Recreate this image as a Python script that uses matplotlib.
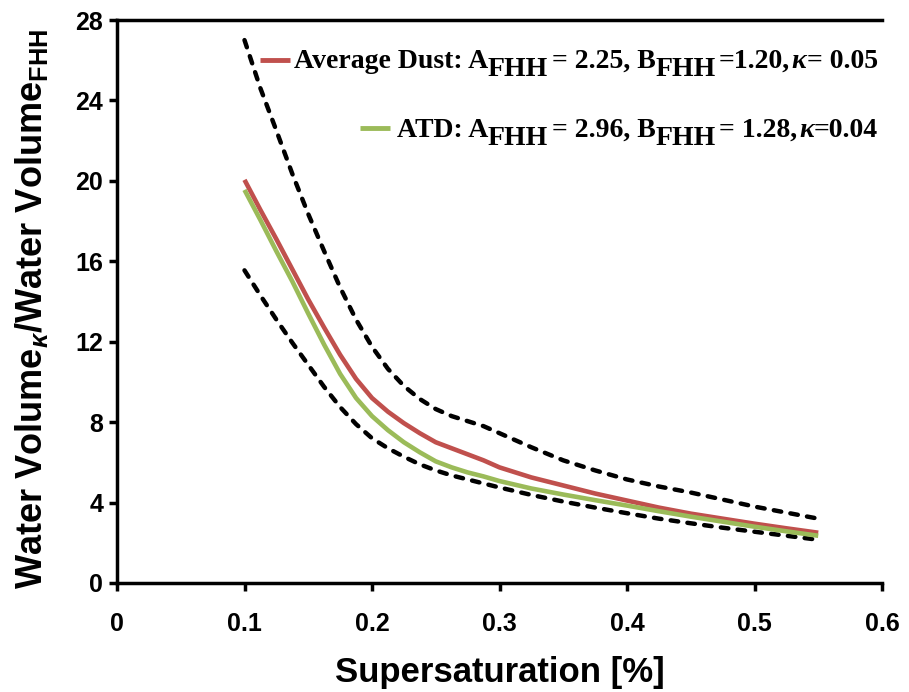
import matplotlib
matplotlib.use("Agg")
import matplotlib.pyplot as plt
import matplotlib.transforms as mtransforms

# ---------------- data ----------------
supersat = [0.1, 0.1125, 0.125, 0.1375, 0.15, 0.1625, 0.175, 0.1875, 0.2, 0.2125, 0.225, 0.2375,
            0.25, 0.2625, 0.275, 0.2875, 0.3, 0.325, 0.35, 0.375, 0.4, 0.425, 0.45, 0.475, 0.5, 0.525, 0.55]
avg_dust = [20.05, 18.55, 17.1, 15.6, 14.1, 12.7, 11.35, 10.15, 9.2, 8.52, 7.95, 7.45,
            7.0, 6.7, 6.4, 6.1, 5.75, 5.25, 4.85, 4.45, 4.1, 3.75, 3.45, 3.2, 2.95, 2.72, 2.5]
atd      = [19.55, 18.05, 16.5, 15.0, 13.4, 11.85, 10.4, 9.2, 8.3, 7.6, 7.0, 6.5,
            6.05, 5.75, 5.5, 5.3, 5.07, 4.7, 4.4, 4.12, 3.85, 3.57, 3.3, 3.05, 2.8, 2.57, 2.35]
upper    = [27.0, 24.6, 22.5, 20.35, 18.35, 16.5, 14.7, 13.1, 11.75, 10.65, 9.8, 9.15,
            8.65, 8.3, 8.05, 7.8, 7.45, 6.75, 6.1, 5.6, 5.15, 4.8, 4.5, 4.15, 3.8, 3.5, 3.2]
lower    = [15.55, 14.3, 13.1, 11.95, 10.85, 9.75, 8.75, 7.9, 7.2, 6.7, 6.28, 5.9,
            5.6, 5.35, 5.15, 4.95, 4.75, 4.38, 4.05, 3.75, 3.47, 3.2, 2.97, 2.75, 2.55, 2.35, 2.15]

xticks = [0, 0.1, 0.2, 0.3, 0.4, 0.5, 0.6]
xtick_labels = ["0", "0.1", "0.2", "0.3", "0.4", "0.5", "0.6"]
yticks = [0, 4, 8, 12, 16, 20, 24, 28]

legend1 = [("Average Dust: A", "n", 0.0), ("FHH", "s", 0.0), ("= 2.25, B", "n", 0.12),
           ("FHH", "s", 0.0), ("=1.20,", "n", 0.1), ("\u03ba", "i", 0.08), ("= 0.05", "n", 0.02)]
legend2 = [("ATD: A", "n", 0.0), ("FHH", "s", 0.0), ("= 2.96, B", "n", 0.12),
           ("FHH", "s", 0.0), ("= 1.28,", "n", 0.12), ("\u03ba", "i", 0.08), ("=0.04", "n", 0.0)]

RED = "#C0504D"
GREEN = "#9BBB59"

plt.rcParams["font.family"] = ["Liberation Sans", "DejaVu Sans"]
plt.rcParams["mathtext.fontset"] = "custom"
plt.rcParams["mathtext.rm"] = "Liberation Sans:bold"
plt.rcParams["mathtext.bf"] = "Liberation Sans:bold"
plt.rcParams["mathtext.it"] = "Liberation Sans:italic:bold"

fig = plt.figure(figsize=(9.09, 6.92), dpi=100)
ax = fig.add_axes([117/909, 1-583/692, (882-117)/909, (583-20)/692])

dash = (0, (1.7, 2.1))
ax.plot(supersat, upper, color="black", lw=3.2, linestyle=dash, dash_capstyle="round")
ax.plot(supersat, lower, color="black", lw=3.2, linestyle=dash, dash_capstyle="round")
ax.plot(supersat, avg_dust, color=RED, lw=3.3, solid_capstyle="butt")
ax.plot(supersat, atd, color=GREEN, lw=3.3, solid_capstyle="butt")

ax.set_xlim(0, 0.6)
ax.set_ylim(0, 28)
ax.set_xticks(xticks)
ax.set_xticklabels(xtick_labels)
ax.set_yticks(yticks)
for s in ["left", "bottom", "top"]:
    ax.spines[s].set_linewidth(2.5)
ax.spines["right"].set_visible(False)
ax.tick_params(axis="both", direction="out", width=2.5, length=6,
               labelsize=18, top=False, right=False)
ax.tick_params(axis="x", pad=15)
ax.tick_params(axis="y", pad=4)
for lab in ax.get_xticklabels() + ax.get_yticklabels():
    lab.set_fontweight("bold")

ax.set_xlabel("Supersaturation [%]", fontsize=25, fontweight="bold", labelpad=14)
ax.set_ylabel(r"Water Volume$_{\kappa}$/Water Volume$_{\mathrm{FHH}}$", fontsize=26,
              fontweight="bold", labelpad=18, y=0.487)

# ---------------- legend (hand-built, right aligned) ----------------
renderer = fig.canvas.get_renderer()
FS = 20
SERIF = ["Liberation Serif", "DejaVu Serif"]


def rich_right(x_right, y, pieces):
    base = mtransforms.offset_copy(ax.transAxes, fig=fig, x=0, y=0, units="points")
    for text, kind, gap in reversed(pieces):
        if kind == "s":
            tr = mtransforms.offset_copy(base, fig=fig, x=0, y=-6, units="points")
            t = ax.text(x_right, y, text, transform=tr, ha="right", va="baseline",
                        fontsize=FS, fontweight="bold", family=SERIF)
        elif kind == "i":
            t = ax.text(x_right, y, text, transform=base, ha="right", va="baseline",
                        fontsize=FS, fontweight="bold", fontstyle="italic", family=SERIF)
        else:
            t = ax.text(x_right, y, text, transform=base, ha="right", va="baseline",
                        fontsize=FS, fontweight="bold", family=SERIF)
        w = t.get_window_extent(renderer).width
        base = mtransforms.offset_copy(base, fig=fig, x=-(w + gap * FS * fig.dpi / 72.0), units="dots")


rich_right(0.995, (583-68)/563, legend1)
rich_right(0.995, (583-137)/563, legend2)
ax.plot([(260-117)/765, (290-117)/765], [(583-60)/563]*2, color=RED, lw=3.5,
        transform=ax.transAxes, solid_capstyle="butt")
ax.plot([(360-117)/765, (390-117)/765], [(583-128)/563]*2, color=GREEN, lw=3.5,
        transform=ax.transAxes, solid_capstyle="butt")

fig.savefig("out.png", dpi=100)
